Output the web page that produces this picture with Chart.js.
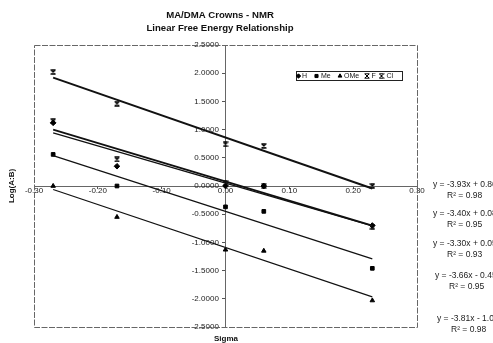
<!DOCTYPE html>
<html lang="en">
<head>
  <meta charset="UTF-8" />
  <title>MA/DMA Crowns - NMR</title>
  <script src="https://cdn.jsdelivr.net/npm/chart.js"></script>
  <style>
    body {
      margin: 0;
      padding: 0;
      background: #fff;
    }
    .chart-box {
      position: relative;
      width: 493px;
      height: 343px;
    }
  </style>
</head>
<body>
  <div class="chart-box">
    <canvas id="lferChart"></canvas>
  </div>
  <script>
    /* =========================
         DATA
       ========================= */
    // Hammett sigma of the substituent (x)
    const sigma = [-0.27, -0.17, 0.00, 0.06, 0.23];

    // Log(A:B) for each crown series
    const logH   = [1.12, 0.35, 0.00, 0.00, -0.70];
    const logMe  = [0.56, 0.00, -0.37, -0.45, -1.46];
    const logOMe = [0.00, -0.55, -1.13, -1.15, -2.03];
    const logF   = [1.15, 0.47, 0.05, 0.00, -0.72];
    const logCl  = [2.02, 1.46, 0.74, 0.71, 0.00];

    const seriesNames = ['H', 'Me', 'OMe', 'F', 'Cl'];
    const seriesData = [logH, logMe, logOMe, logF, logCl];

    // linear trendlines as printed on the chart
    const slopes     = [-3.30, -3.66, -3.81, -3.40, -3.93];
    const intercepts = [0.05, -0.45, -1.09, 0.08, 0.86];
    const rSquared   = [0.93, 0.95, 0.98, 0.95, 0.98];

    // axis ticks
    const xTicks = [-0.30, -0.20, -0.10, 0.00, 0.10, 0.20, 0.30];
    const yTicks = [-2.5, -2.0, -1.5, -1.0, -0.5, 0.0, 0.5, 1.0, 1.5, 2.0, 2.5];

    /* =========================
         STYLE
       ========================= */
    const FONT = "'Liberation Sans', Arial, sans-serif";

    // small "x with bars" marker, like the scanned Excel star / x markers
    function barCross(size, lw) {
      const c = document.createElement('canvas');
      c.width = size; c.height = size;
      const g = c.getContext('2d');
      g.strokeStyle = '#000';
      g.lineWidth = lw;
      g.beginPath();
      g.moveTo(0.5, 0.8); g.lineTo(size - 0.5, 0.8);
      g.moveTo(0.5, size - 0.8); g.lineTo(size - 0.5, size - 0.8);
      g.moveTo(1, 1); g.lineTo(size - 1, size - 1);
      g.moveTo(size - 1, 1); g.lineTo(1, size - 1);
      g.stroke();
      return c;
    }
    const crossMark = barCross(6, 1.3);
    const crossMarkLegend = barCross(6, 1);

    const markers = ['rectRot', 'rect', 'triangle', crossMark, crossMark];
    const legendMarkers = ['rectRot', 'rect', 'triangle', crossMarkLegend, crossMarkLegend];
    const lineWidths = [1.3, 1.2, 1.2, 1.8, 2];
    // where each equation sits beside its line (series index, x, y)
    const eqPlaces = [
      { i: 4, x: 433, y: 185 },
      { i: 3, x: 433, y: 214 },
      { i: 0, x: 433, y: 244 },
      { i: 1, x: 435, y: 276 },
      { i: 2, x: 437, y: 319 }
    ];
    // legend item x positions (marker centre, text start)
    const legendPlaces = [[298.5, 302], [316.5, 321], [340, 344], [367, 371.5], [381.5, 386.5]];

    const fmt = (v, d) => (Math.abs(v) < 1e-9 ? 0 : v).toFixed(d);

    /* =========================
         DATASETS
       ========================= */
    const pointSets = seriesNames.map((name, s) => ({
      label: name,
      data: sigma.map((x, k) => ({ x: x, y: seriesData[s][k] })),
      showLine: false,
      pointStyle: markers[s],
      pointRadius: markers[s] === 'rectRot' ? 2.8 : 2.6,
      backgroundColor: '#000',
      borderColor: '#000',
      borderWidth: 1
    }));

    const x0 = sigma[0], x1 = sigma[sigma.length - 1];
    const trendSets = seriesNames.map((name, s) => ({
      label: name + ' trend',
      data: [
        { x: x0, y: slopes[s] * x0 + intercepts[s] },
        { x: x1, y: slopes[s] * x1 + intercepts[s] }
      ],
      showLine: true,
      pointRadius: 0,
      borderColor: '#111',
      borderWidth: lineWidths[s]
    }));

    /* =========================
         DECORATION PLUGIN
       ========================= */
    const decor = {
      id: 'decor',
      beforeDatasetsDraw(chart) {
        const { ctx, chartArea: a } = chart;
        ctx.save();
        ctx.strokeStyle = '#666';
        ctx.lineWidth = 1;
        ctx.setLineDash([6, 1.5]);
        ctx.strokeRect(Math.round(a.left) + 0.5, Math.round(a.top) + 0.5,
          Math.round(a.right - a.left), Math.round(a.bottom - a.top));
        ctx.restore();
      },
      afterDraw(chart) {
        const { ctx } = chart;
        ctx.save();
        ctx.fillStyle = '#111';
        ctx.textBaseline = 'middle';

        // titles
        ctx.textAlign = 'center';
        ctx.font = 'bold 9.6px ' + FONT;
        ctx.fillText('MA/DMA Crowns - NMR', 220, 15);
        ctx.fillText('Linear Free Energy Relationship', 220, 28.5);

        // axis titles
        ctx.font = 'bold 8px ' + FONT;
        ctx.fillText('Sigma', 226, 338.5);
        ctx.save();
        ctx.translate(12, 186);
        ctx.rotate(-Math.PI / 2);
        ctx.fillText('Log(A:B)', 0, 0);
        ctx.restore();

        // legend
        ctx.fillStyle = '#fff';
        ctx.strokeStyle = '#222';
        ctx.lineWidth = 1;
        ctx.fillRect(296.5, 71.5, 106, 9);
        ctx.strokeRect(296.5, 71.5, 106, 9);
        ctx.font = '7px ' + FONT;
        ctx.textAlign = 'left';
        seriesNames.forEach((name, s) => {
          const [mx, tx] = legendPlaces[s];
          ctx.fillStyle = '#000';
          ctx.strokeStyle = '#000';
          ctx.lineWidth = 1;
          Chart.helpers.drawPoint(ctx, {
            pointStyle: legendMarkers[s], radius: 2.2, rotation: 0, borderWidth: 1
          }, mx, 76);
          ctx.fillStyle = '#111';
          ctx.fillText(name, tx, 76.5);
        });

        // trendline equations
        ctx.font = '8.5px ' + FONT;
        ctx.fillStyle = '#222';
        eqPlaces.forEach(p => {
          const b = intercepts[p.i];
          const eq = 'y = ' + slopes[p.i].toFixed(2) + 'x ' + (b < 0 ? '- ' : '+ ') + Math.abs(b).toFixed(2);
          ctx.fillText(eq, p.x, p.y);
          ctx.fillText('R\u00b2 = ' + rSquared[p.i].toFixed(2), p.x + 14, p.y + 11);
        });
        ctx.restore();
      }
    };

    /* =========================
         CHART
       ========================= */
    const ctxChart = document.getElementById('lferChart').getContext('2d');
    new Chart(ctxChart, {
      type: 'scatter',
      data: { datasets: trendSets.concat(pointSets) },
      options: {
        responsive: true,
        maintainAspectRatio: false,
        animation: false,
        layout: { padding: { left: 34, right: 76, top: 45, bottom: 16 } },
        plugins: {
          legend: { display: false },
          title: { display: false },
          tooltip: { enabled: false }
        },
        scales: {
          x: {
            type: 'linear',
            min: -0.3,
            max: 0.3,
            position: { y: 0 },
            afterBuildTicks: scale => { scale.ticks = xTicks.map(v => ({ value: v })); },
            ticks: {
              callback: v => fmt(v, 2),
              font: { family: FONT, size: 8 },
              color: '#222',
              padding: -2,
              maxRotation: 0,
              autoSkip: false
            },
            grid: { display: true, drawOnChartArea: false, drawTicks: true, tickLength: 2, color: '#555' },
            border: { display: true, color: '#666', width: 1 }
          },
          y: {
            type: 'linear',
            min: -2.5,
            max: 2.5,
            position: { x: 0 },
            afterBuildTicks: scale => { scale.ticks = yTicks.map(v => ({ value: v })); },
            ticks: {
              // axis sits in the middle, so pad the label away from it
              callback: v => fmt(v, 4) + '   ',
              font: { family: FONT, size: 8 },
              color: '#222',
              autoSkip: false
            },
            grid: { display: true, drawOnChartArea: false, drawTicks: true, tickLength: 3, color: '#555' },
            border: { display: true, color: '#666', width: 1 }
          }
        }
      },
      plugins: [decor]
    });
  </script>
</body>
</html>
